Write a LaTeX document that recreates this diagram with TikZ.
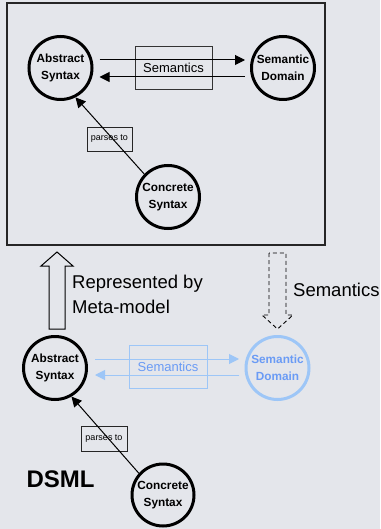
\documentclass[tikz,border=0pt]{standalone}
\usepackage{fontspec}
\setmainfont{Liberation Sans}
\usetikzlibrary{arrows.meta,calc}
\definecolor{bg}{HTML}{E4E6EB}
\definecolor{lblue}{HTML}{9DC6F7}
\definecolor{tblue}{HTML}{6A9BF5}
\begin{document}
\begin{tikzpicture}[x=1pt,y=-1pt,
  conc/.style={circle,draw=black,line width=3pt,minimum size=63pt,inner sep=0pt,align=center,font=\bfseries\fontsize{11.8}{16.5}\selectfont},
  semlbl/.style={draw=black!80,line width=0.9pt,minimum width=77pt,minimum height=43pt,inner sep=0pt,font=\fontsize{13}{15}\selectfont},
  parlbl/.style={draw=black!85,fill=bg,line width=0.9pt,minimum width=45pt,minimum height=24pt,inner sep=0pt,font=\fontsize{9}{10}\selectfont},
  conn/.style={line width=1pt,-{Triangle[length=10pt,width=10pt]}},
  big/.style={font=\fontsize{18.5}{25}\selectfont,align=left,inner sep=0pt}
]
\fill[bg] (0,0) rectangle (380,529);
\useasboundingbox (0,0) rectangle (380,529);
% outer box
\draw[line width=1.1pt,black!85] (7,3) rectangle (325,245);
% top model
\node[conc] (AS) at (60.5,68) {Abstract\\Syntax};
\node[conc] (SD) at (283,68) {Semantic\\Domain};
\node[conc] (CS) at (168,197) {Concrete\\Syntax};
\node[semlbl] (SB) at (173.5,67.5) {Semantics};
\draw[conn] ([xshift=6pt,yshift=8pt]AS.east) -- ([xshift=-5pt,yshift=8pt]SD.west);
\draw[conn] ([xshift=-5pt,yshift=-9pt]SD.west) -- ([xshift=6pt,yshift=-9pt]AS.east);
\node[parlbl] (PB) at (109.5,139) {parses to};
\draw[conn] (CS.136) -- (AS.-63);
% block arrows
\coordinate (UA) at (57,252);
\draw[line width=1pt,fill=bg] (49,329) -- (49,266) -- (41,266) -- (UA) -- (73,266) -- (65,266) -- (65,329) -- cycle;
\coordinate (DA) at (277.5,329);
\draw[line width=0.9pt,dash pattern=on 4pt off 3pt] (269,253) -- (269,315) -- (262,315) -- (DA) -- (293,315) -- (286,315) -- (286,253) -- cycle;
\node[big,anchor=west] (RB) at (72,294.5) {Represented by\\Meta-model};
\node[big,anchor=west] (SL) at (293,290) {Semantics};
% bottom DSML
\node[conc] (AS2) at (55,368) {Abstract\\Syntax};
\node[conc,draw=lblue,text=tblue] (SD2) at (277.5,368) {Semantic\\Domain};
\node[conc,minimum size=62pt] (CS2) at (163,495) {Concrete\\Syntax};
\node[semlbl,draw=lblue,text=tblue,minimum width=78pt] (SB2) at (168,366.5) {Semantics};
\draw[conn,draw=lblue,fill=lblue] ([xshift=7pt,yshift=9pt]AS2.east) -- ([xshift=-5.5pt,yshift=9pt]SD2.west);
\draw[conn,draw=lblue,fill=lblue] ([xshift=-5.5pt,yshift=-7pt]SD2.west) -- ([xshift=7pt,yshift=-7pt]AS2.east);
\node[parlbl,minimum width=46pt,minimum height=25pt] (PB2) at (104,438.5) {parses to};
\draw[conn] (CS2.138) -- (AS2.-60);
\node[font=\bfseries\fontsize{24}{26}\selectfont,inner sep=0pt] (DS) at (60.5,479) {DSML};
\end{tikzpicture}
\end{document}
